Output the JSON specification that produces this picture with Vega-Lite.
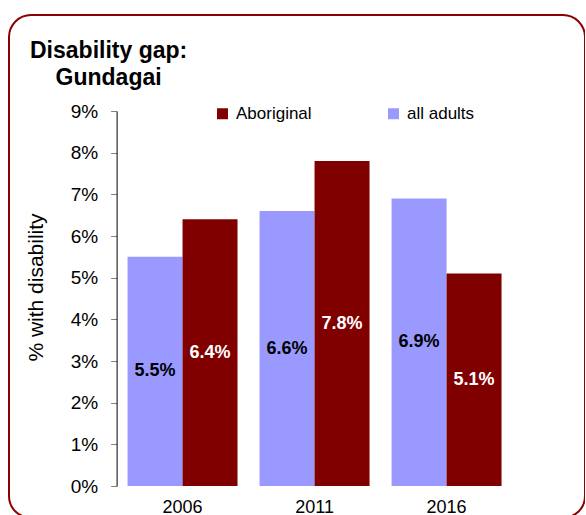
{
  "$schema": "https://vega.github.io/schema/vega-lite/v6.json",
  "width": 576,
  "height": 503,
  "autosize": {"type": "none"},
  "padding": {"left": 9, "top": 15, "right": 0, "bottom": 0},
  "background": "white",
  "config": {
    "font": "Liberation Sans",
    "view": {"stroke": "#8B0000", "strokeWidth": 2, "cornerRadius": 22, "fill": "white"}
  },
  "title": {
    "text": ["Disability gap:", "\u200b\u00a0\u00a0\u00a0\u00a0Gundagai"],
    "anchor": "start",
    "frame": "group",
    "fontSize": 23,
    "fontWeight": "bold",
    "color": "black",
    "lineHeight": 27,
    "baseline": "top",
    "offset": 0,
    "dx": 21,
    "dy": 75
  },
  "data": {
    "values": [
      {"year": "2006", "series": "all adults", "value": 0.055},
      {"year": "2006", "series": "Aboriginal", "value": 0.064},
      {"year": "2011", "series": "all adults", "value": 0.066},
      {"year": "2011", "series": "Aboriginal", "value": 0.078},
      {"year": "2016", "series": "all adults", "value": 0.069},
      {"year": "2016", "series": "Aboriginal", "value": 0.051}
    ]
  },
  "encoding": {
    "x": {
      "field": "year",
      "type": "nominal",
      "scale": {"domain": ["2006", "2011", "2016"], "range": [107.6, 503.5], "paddingInner": 0.167, "paddingOuter": 0.083},
      "axis": {
        "orient": "bottom",
        "offset": -32,
        "domain": false,
        "ticks": false,
        "tickSize": 0,
        "labelPadding": 12,
        "labelFontSize": 18,
        "labelColor": "black",
        "labelAngle": 0,
        "title": null
      }
    },
    "xOffset": {
      "field": "series",
      "type": "nominal",
      "scale": {"domain": ["all adults", "Aboriginal"], "paddingInner": 0, "paddingOuter": 0}
    }
  },
  "layer": [
    {
      "mark": {"type": "bar"},
      "encoding": {
        "y": {
          "field": "value",
          "type": "quantitative",
          "scale": {"domain": [0, 0.09], "range": [471, 96], "nice": false, "zero": true},
          "axis": {
            "orient": "left",
            "offset": -107.6,
            "values": [0, 0.01, 0.02, 0.03, 0.04, 0.05, 0.06, 0.07, 0.08, 0.09],
            "format": ".0%",
            "grid": false,
            "domainColor": "black",
            "domainWidth": 1,
            "tickColor": "#808080",
            "tickSize": 6,
            "labelFontSize": 19,
            "labelColor": "black",
            "labelPadding": 13,
            "title": "% with disability",
            "titleFontSize": 21,
            "titleFontWeight": "normal",
            "titleColor": "black",
            "titleX": -70.6,
            "titleY": 272,
            "titleAngle": -90,
            "titleAlign": "center",
            "titleBaseline": "bottom"
          }
        },
        "color": {
          "field": "series",
          "type": "nominal",
          "scale": {"domain": ["Aboriginal", "all adults"], "range": ["#800000", "#9999FF"]},
          "legend": {
            "orient": "none",
            "direction": "horizontal",
            "legendX": 205,
            "legendY": 90,
            "title": null,
            "symbolType": "square",
            "symbolSize": 121,
            "symbolStrokeWidth": 0,
            "labelFontSize": 17,
            "labelColor": "black",
            "labelOffset": 5,
            "columnPadding": 73,
            "padding": 0
          }
        }
      }
    },
    {
      "mark": {"type": "text", "fontSize": 18, "fontWeight": "bold", "baseline": "middle", "align": "center"},
      "encoding": {
        "y": {
          "field": "value",
          "type": "quantitative",
          "scale": {"domain": [0, 0.18], "range": [471, 96], "nice": false, "zero": true},
          "axis": null
        },
        "text": {"field": "value", "type": "quantitative", "format": ".1%"},
        "color": {
          "field": "series",
          "type": "nominal",
          "scale": {"domain": ["Aboriginal", "all adults"], "range": ["white", "black"]},
          "legend": null
        }
      }
    }
  ],
  "resolve": {"scale": {"y": "independent", "color": "independent"}}
}
